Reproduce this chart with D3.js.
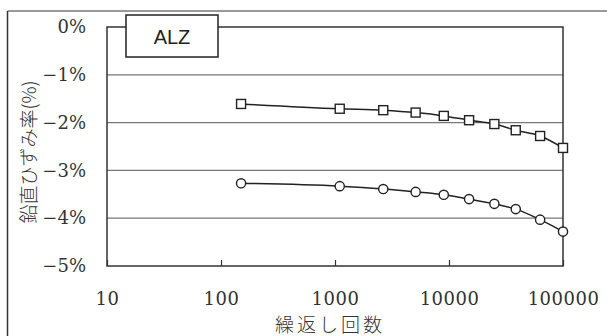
<!DOCTYPE html>
<html>
<head>
<meta charset="utf-8">
<script src="https://cdn.jsdelivr.net/npm/d3@7"></script>
<style>
    body { margin: 0; background: #fff; }
    svg { display: block; }
</style>
</head>
<body>
<script>
// cycles and vertical strain (%)
var cycles = [150, 1100, 2650, 5100, 9000, 15000, 25000, 38500, 63000, 100000];
var strainSquare = [-1.61, -1.71, -1.74, -1.79, -1.86, -1.95, -2.03, -2.16, -2.28, -2.53];
var strainCircle = [-3.27, -3.33, -3.39, -3.45, -3.51, -3.60, -3.70, -3.81, -4.03, -4.28];
var xTicks = [10, 100, 1000, 10000, 100000];
var yTicks = [0, -1, -2, -3, -4, -5];
var label = "ALZ";

var width = 607, height = 336;
var margin = {top: 27, right: 44, bottom: 70, left: 107};
var w = width - margin.left - margin.right,
    h = height - margin.top - margin.bottom;

var serif = "DejaVu Serif";

var svg = d3.select("body").append("svg")
    .attr("width", width)
    .attr("height", height);

// outer frame (only top and left edges show)
svg.append("line").attr("x1", 7.5).attr("x2", width).attr("y1", 11).attr("y2", 11)
    .attr("stroke", "#999").attr("stroke-width", 2);
svg.append("line").attr("x1", 7.5).attr("x2", 7.5).attr("y1", 11).attr("y2", height)
    .attr("stroke", "#333").attr("stroke-width", 1.5);

var g = svg.append("g")
    .attr("transform", "translate(" + margin.left + "," + margin.top + ")");

var x = d3.scaleLog().domain([10, 100000]).range([0, w]);
var y = d3.scaleLinear().domain([-5, 0]).range([h, 0]);

// gridlines
g.selectAll(".grid")
    .data(yTicks.filter(function(d) { return d > -5 && d < 0; }))
    .enter().append("line")
    .attr("x1", 0).attr("x2", w)
    .attr("y1", function(d) { return y(d); })
    .attr("y2", function(d) { return y(d); })
    .attr("stroke", "#777").attr("stroke-width", 1.2);

// plot frame
g.append("rect")
    .attr("width", w).attr("height", h)
    .attr("fill", "none").attr("stroke", "#333").attr("stroke-width", 1.5);

// y axis
var yAxis = g.append("g").call(d3.axisLeft(y)
    .tickValues(yTicks)
    .tickSize(0)
    .tickPadding(21)
    .tickFormat(function(d) { return (d < 0 ? "\u2212" + (-d) : d) + "%"; }));
yAxis.attr("font-family", serif).attr("font-size", 18);
yAxis.select(".domain").remove();
yAxis.selectAll("text").attr("fill", "#333");

// x axis
var xAxis = g.append("g")
    .attr("transform", "translate(0," + h + ")")
    .call(d3.axisBottom(x)
        .tickValues(xTicks)
        .tickSize(-6)
        .tickPadding(26)
        .tickFormat(d3.format("d")));
xAxis.attr("font-family", serif).attr("font-size", 18);
xAxis.select(".domain").remove();
xAxis.selectAll("line").attr("stroke", "#333").attr("stroke-width", 1.2);
xAxis.selectAll("text").attr("fill", "#333")
    .attr("letter-spacing", 0.5);

// axis titles
svg.append("text")
    .attr("x", 330).attr("y", 332)
    .attr("text-anchor", "middle")
    .attr("font-family", "Noto Sans CJK JP")
    .attr("font-size", 19).attr("font-weight", 300).attr("fill", "#333")
    .attr("letter-spacing", 3)
    .text("繰返し回数");

svg.append("text")
    .attr("transform", "translate(36,152) rotate(-90)")
    .attr("text-anchor", "middle")
    .attr("font-family", "Noto Sans CJK JP")
    .attr("font-size", 19).attr("font-weight", 300).attr("fill", "#333")
    .text("鉛直ひずみ率(%)");

// series
var line = d3.line()
    .x(function(d) { return x(d[0]); })
    .y(function(d) { return y(d[1]); })
    .curve(d3.curveMonotoneX);

var sq = cycles.map(function(c, i) { return [c, strainSquare[i]]; });
var ci = cycles.map(function(c, i) { return [c, strainCircle[i]]; });

[sq, ci].forEach(function(s) {
    g.append("path")
        .datum(s)
        .attr("d", line)
        .attr("fill", "none")
        .attr("stroke", "#222")
        .attr("stroke-width", 1.5);
});

g.selectAll(".sq")
    .data(sq)
    .enter().append("rect")
    .attr("x", function(d) { return x(d[0]) - 4.5; })
    .attr("y", function(d) { return y(d[1]) - 4.5; })
    .attr("width", 9).attr("height", 9)
    .attr("fill", "#fff").attr("stroke", "#222").attr("stroke-width", 1.4);

g.selectAll(".ci")
    .data(ci)
    .enter().append("circle")
    .attr("cx", function(d) { return x(d[0]); })
    .attr("cy", function(d) { return y(d[1]); })
    .attr("r", 4.6)
    .attr("fill", "#fff").attr("stroke", "#222").attr("stroke-width", 1.4);

// label box
svg.append("rect")
    .attr("x", 126).attr("y", 15).attr("width", 92).attr("height", 42)
    .attr("fill", "#fff").attr("stroke", "#222").attr("stroke-width", 1.5);
svg.append("text")
    .attr("x", 172).attr("y", 44)
    .attr("text-anchor", "middle")
    .attr("font-family", "Liberation Sans")
    .attr("font-size", 20).attr("fill", "#222")
    .text(label);
</script>
</body>
</html>
